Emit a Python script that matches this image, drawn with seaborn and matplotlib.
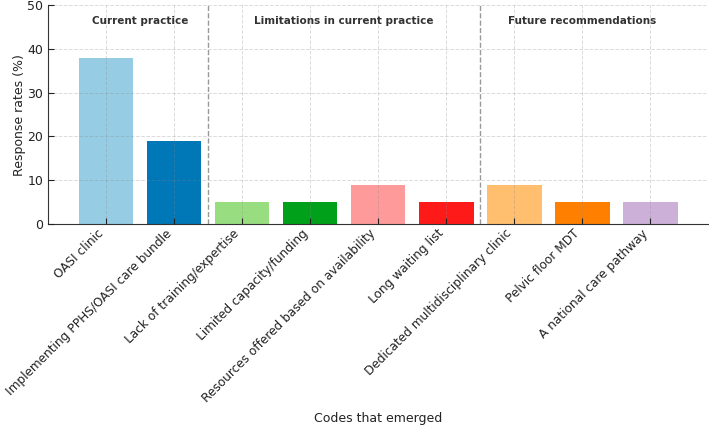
import matplotlib
matplotlib.use("Agg")
import matplotlib.pyplot as plt
import seaborn as sns
import pandas as pd

# Dados
codes = [
    "OASI clinic",
    "Implementing PPHS/OASI care bundle",
    "Lack of training/expertise",
    "Limited capacity/funding",
    "Resources offered based on availability",
    "Long waiting list",
    "Dedicated multidisciplinary clinic",
    "Pelvic floor MDT",
    "A national care pathway",
]
rates = [38, 19, 5, 5, 9, 5, 9, 5, 5]
bar_colors = ["#96cde4", "#0077b6", "#98dd80", "#00a01a", "#ff9a9a",
              "#ff1a1a", "#ffbf6f", "#ff7f00", "#cdb0d8"]
groups = ["Current practice", "Limitations in current practice", "Future recommendations"]
group_centers = [0.5, 3.5, 7]
dividers = [1.5, 5.5]

df = pd.DataFrame({"code": codes, "rate": rates})

sns.set_style("white")
plt.rcParams["font.family"] = ["DejaVu Sans"]

fig, ax = plt.subplots(figsize=(7.09, 4.26), dpi=100)
fig.subplots_adjust(left=0.068, right=0.999, bottom=0.474, top=0.988)

sns.barplot(data=df, x="code", y="rate", hue="code", palette=bar_colors,
            legend=False, width=0.8, saturation=1, linewidth=0, ax=ax)

# Linhas separando os grupos
for d in dividers:
    ax.axvline(d, color="#999999", linestyle="--", linewidth=1)

for g, c in zip(groups, group_centers):
    ax.text(c, 46.3, g, ha="center", va="center", fontsize=7.5,
            fontweight="bold", color="#333333")

ax.set_xlim(-0.85, 8.85)
ax.set_ylim(0, 50)
ax.set_yticks(range(0, 51, 10))
ax.set_xlabel("Codes that emerged", fontsize=9, color="#222222", va="center")
ax.xaxis.set_label_coords(0.5, -0.886)
ax.set_ylabel("Response rates (%)", fontsize=9, color="#222222", labelpad=1)
plt.xticks(rotation=45, ha="right", fontsize=8.7)
ax.tick_params(axis="both", direction="in", length=4,
               colors="#222222", top=False, right=False, bottom=True, left=True)
ax.tick_params(axis="y", labelsize=9)
ax.tick_params(axis="x", pad=2)

# Grade tracejada por cima das barras, bem clara
ax.grid(True, linestyle="--", color="#888888", alpha=0.3, linewidth=0.7)
ax.set_axisbelow(False)

ax.spines["top"].set_visible(False)
ax.spines["right"].set_visible(False)
ax.spines["left"].set_color("#333333")
ax.spines["bottom"].set_color("#333333")

fig.savefig("out.png", dpi=100)
